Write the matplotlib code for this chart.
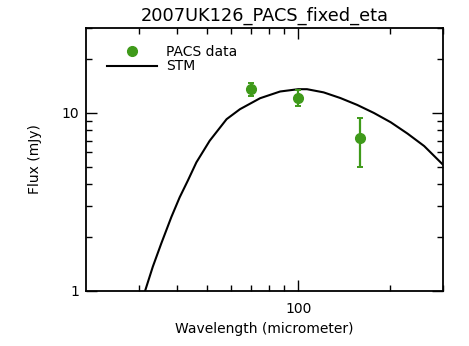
import matplotlib
matplotlib.use("Agg")
import matplotlib.pyplot as plt
from matplotlib.lines import Line2D
from matplotlib.ticker import FixedLocator, NullFormatter

plt.rcParams['font.family'] = ['DejaVu Sans']

# PACS photometry
pacs_wave = [70, 100, 160]
pacs_flux = [13.6, 12.2, 7.2]
pacs_err = [1.1, 1.2, 2.2]

# STM model curve
stm_wave = [31.3, 33.2, 35.4, 38.2, 40.7, 43.3, 46.2, 51.1, 58.1, 64.3, 74.9,
            87.2, 100.0, 106.9, 121.3, 137.7, 156.4, 177.6, 201.7, 229.1,
            260.0, 295.2, 305.0]
stm_flux = [1.0, 1.37, 1.85, 2.60, 3.36, 4.17, 5.28, 6.98, 9.23, 10.5, 12.1,
            13.2, 13.6, 13.6, 13.05, 12.13, 11.1, 10.0, 8.87, 7.66,
            6.52, 5.26, 4.98]

green = "#3f9a1a"

fig = plt.figure(figsize=(4.69, 3.46), dpi=100)
ax = fig.add_axes([0.1834, 0.159, 0.7612, 0.760])

ax.plot(stm_wave, stm_flux, color="black", lw=1.5, zorder=2)
ax.errorbar(pacs_wave, pacs_flux, yerr=pacs_err, fmt="o", color=green,
            ms=7, elinewidth=1.6, capsize=2.5, capthick=1.4, zorder=3)

ax.set_xscale("log")
ax.set_yscale("log")
ax.set_xlim(20, 300)
ax.set_ylim(1, 30)

ax.xaxis.set_major_locator(FixedLocator([100]))
ax.xaxis.set_minor_locator(FixedLocator([30, 40, 50, 60, 70, 80, 90, 200, 300]))
ax.yaxis.set_major_locator(FixedLocator([1, 10]))
ax.yaxis.set_minor_locator(FixedLocator([2, 3, 4, 5, 6, 7, 8, 9, 20, 30]))
ax.xaxis.set_major_formatter(plt.FixedFormatter(["100"]))
ax.yaxis.set_major_formatter(plt.FixedFormatter(["1", "10"]))
ax.xaxis.set_minor_formatter(NullFormatter())
ax.yaxis.set_minor_formatter(NullFormatter())

ax.tick_params(which="both", direction="in", top=True, right=True,
               labelsize=10, width=1.0)
ax.tick_params(axis="x", pad=8)
ax.tick_params(axis="y", pad=5)
ax.tick_params(which="major", length=8)
ax.tick_params(which="minor", length=4)
for s in ax.spines.values():
    s.set_linewidth(1.3)

ax.set_title("2007UK126_PACS_fixed_eta", fontsize=12.8, pad=5)
ax.set_xlabel("Wavelength (micrometer)", fontsize=10, labelpad=4)
ax.set_ylabel("Flux (mJy)", fontsize=10, labelpad=14)

handles = [Line2D([], [], marker="o", ls="none", color=green, ms=7),
           Line2D([], [], color="black", lw=1.5)]
ax.legend(handles, ["PACS data", "STM"], loc="upper left", frameon=False,
          bbox_to_anchor=(0.058, 0.935), fontsize=10, handlelength=3.6,
          handletextpad=0.65, labelspacing=0.02, borderaxespad=0.0,
          borderpad=0.0, numpoints=1)

fig.savefig("out.png", dpi=100)
